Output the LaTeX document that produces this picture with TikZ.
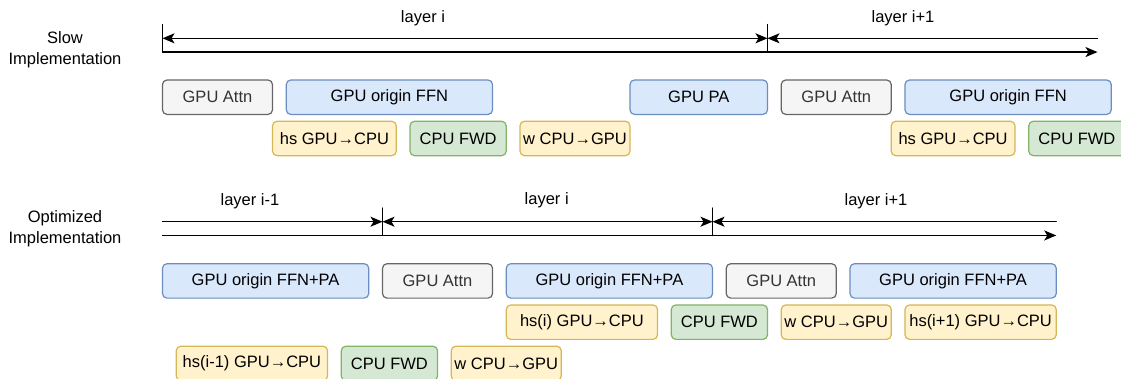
\documentclass[tikz,border=0pt]{standalone}
\usepackage{fontspec}
\setmainfont{Liberation Sans}
\usetikzlibrary{arrows.meta}
\definecolor{attnfill}{HTML}{F5F5F5}
\definecolor{attnline}{HTML}{666666}
\definecolor{attntext}{HTML}{333333}
\definecolor{gpufill}{HTML}{DAE8FC}
\definecolor{gpuline}{HTML}{6C8EBF}
\definecolor{xferfill}{HTML}{FFF2CC}
\definecolor{xferline}{HTML}{D6B656}
\definecolor{cpufill}{HTML}{D5E8D4}
\definecolor{cpuline}{HTML}{82B366}
\begin{document}
\begin{tikzpicture}[line cap=round,line join=round,>={Stealth[length=12pt,width=10pt,inset=3pt]},x=1pt,y=-1pt,
	every node/.style={font=\fontsize{16.5}{20.5}\selectfont},
	task/.style={draw,rounded corners=4.5pt,line width=1.2pt,minimum height=34.4pt,inner sep=0pt},
	attn/.style={task,fill=attnfill,draw=attnline,text=attntext},
	gpu/.style={task,fill=gpufill,draw=gpuline},
	xfer/.style={task,fill=xferfill,draw=xferline},
	cpu/.style={task,fill=cpufill,draw=cpuline},
	tl/.style={line width=1.3pt}]
	\clip(0,0) rectangle (1121,378);
	% slow implementation
	\node[align=center] (slowlbl) at (65,49.7) {Slow\\Implementation};
	\coordinate (sTick0) at (162.5,24.55);
	\coordinate (sTick1) at (767.5,24.55);
	\coordinate (sTop0) at (162.5,38.3);
	\coordinate (sTop1) at (767.5,38.3);
	\coordinate (sTop2) at (1097.5,38.3);
	\coordinate (sBot0) at (162.5,52.05);
	\coordinate (sBot1) at (767.5,52.05);
	\coordinate (sBot2) at (1097.5,52.05);
	\draw[tl] (sTick0) -- (sBot0);
	\draw[tl] (sTick1) -- (sBot1);
	\draw[tl,<->] (sTop0) -- (sTop1);
	\draw[tl,<-] (sTop1) -- (sTop2);
	\draw[tl,->] (sBot0) -- (sBot2);
	\node (sLayerA) at (423,18.3) {layer i};
	\node (sLayerB) at (903,18.3) {layer i+1};
	\node[attn,minimum width=110pt] (sAttn) at (217.5,97.2) {GPU Attn};
	\node[gpu,minimum width=206.25pt] (sFFN) at (389.4,97.2) {GPU origin FFN};
	\node[gpu,minimum width=137.5pt] (sPA) at (698.75,97.2) {GPU PA};
	\node[attn,minimum width=110pt] (sAttnB) at (836.25,97.2) {GPU Attn};
	\node[gpu,minimum width=206.25pt] (sFFNB) at (1008.1,97.2) {GPU origin FFN};
	\node[xfer,minimum width=123.75pt] (sHs) at (334.4,138.45) {hs GPU→CPU};
	\node[cpu,minimum width=96.25pt] (sFwd) at (458.1,138.45) {CPU FWD};
	\node[xfer,minimum width=110pt] (sW) at (575,138.45) {w CPU→GPU};
	\node[xfer,minimum width=123.75pt] (sHsB) at (953.1,138.45) {hs GPU→CPU};
	\node[cpu,minimum width=96.25pt] (sFwdB) at (1076.9,138.45) {CPU FWD};
	% optimized implementation
	\node[align=center] (optlbl) at (65,228.7) {Optimized\\Implementation};
	\coordinate (oTick1) at (382.5,208);
	\coordinate (oTick2) at (712.5,208);
	\coordinate (oTop0) at (162.5,221.7);
	\coordinate (oTop1) at (382.5,221.7);
	\coordinate (oTop2) at (712.5,221.7);
	\coordinate (oTop3) at (1056.25,221.7);
	\coordinate (oBot0) at (162.5,235.45);
	\coordinate (oBot1) at (382.5,235.45);
	\coordinate (oBot2) at (712.5,235.45);
	\coordinate (oBot3) at (1056.25,235.45);
	\draw[tl] (oTick1) -- (oBot1);
	\draw[tl] (oTick2) -- (oBot2);
	\draw[tl,->] (oTop0) -- (oTop1);
	\draw[tl,<->] (oTop1) -- (oTop2);
	\draw[tl,<-] (oTop2) -- (oTop3);
	\draw[tl,->] (oBot0) -- (oBot3);
	\node (oLayerA) at (250,201.7) {layer i-1};
	\node (oLayerB) at (546.7,200.5) {layer i};
	\node (oLayerC) at (876,201.7) {layer i+1};
	\node[gpu,minimum width=206.25pt] (oFFN) at (265.6,280.9) {GPU origin FFN+PA};
	\node[attn,minimum width=110pt] (oAttn) at (437.5,280.9) {GPU Attn};
	\node[gpu,minimum width=206.25pt] (oFFNB) at (609.4,280.9) {GPU origin FFN+PA};
	\node[attn,minimum width=110pt] (oAttnB) at (781.25,280.9) {GPU Attn};
	\node[gpu,minimum width=206.25pt] (oFFNC) at (953.1,280.9) {GPU origin FFN+PA};
	\node[xfer,minimum width=151.25pt] (oHs) at (581.9,322.15) {hs(i) GPU→CPU};
	\node[cpu,minimum width=96.25pt] (oFwd) at (719.4,322.15) {CPU FWD};
	\node[xfer,minimum width=110pt] (oW) at (836.25,322.15) {w CPU→GPU};
	\node[xfer,minimum width=151.25pt] (oHsB) at (980.6,322.15) {hs(i+1) GPU→CPU};
	\node[xfer,minimum width=151.25pt] (oHsA) at (251.9,363.4) {hs(i-1) GPU→CPU};
	\node[cpu,minimum width=96.25pt] (oFwdA) at (389.4,363.4) {CPU FWD};
	\node[xfer,minimum width=110pt] (oWA) at (506.25,363.4) {w CPU→GPU};
\end{tikzpicture}
\end{document}
